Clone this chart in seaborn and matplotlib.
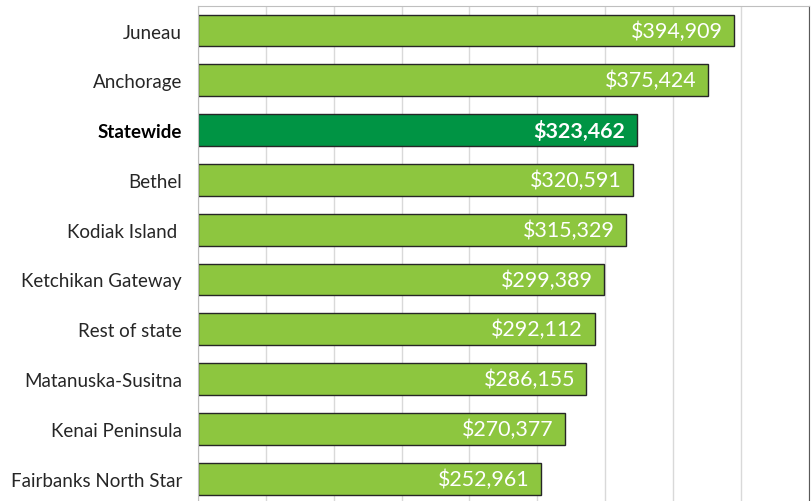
import numpy as np
import pandas as pd
import seaborn as sns
import matplotlib.pyplot as plt

regions = ["Juneau", "Anchorage", "Statewide", "Bethel", "Kodiak Island ",
           "Ketchikan Gateway", "Rest of state", "Matanuska-Susitna",
           "Kenai Peninsula", "Fairbanks North Star"]
values = [394909, 375424, 323462, 320591, 315329,
          299389, 292112, 286155, 270377, 252961]
highlight = "Statewide"

light_green = "#8DC63F"
dark_green = "#009444"

df = pd.DataFrame({"Region": regions, "Value": values})
palette = {r: (dark_green if r == highlight else light_green) for r in regions}

sns.set_style("white")
plt.rcParams["font.family"] = ["Lato", "DejaVu Sans"]

fig = plt.figure(figsize=(8.11, 5.02), dpi=100)
ax = fig.add_axes([0.244, 0.0, 0.7535, 0.9867])

sns.barplot(data=df, y="Region", x="Value", hue="Region", palette=palette,
            legend=False, width=0.64, edgecolor="#262626", linewidth=1.0,
            saturation=1, ax=ax)

ax.set_xlim(0, 450000)
ax.set_ylim(9.45, -0.5)
ax.set_xticks(np.arange(0, 450001, 50000))
ax.xaxis.grid(True, color="#d9d9d9", linewidth=1.0)
ax.set_axisbelow(True)
ax.tick_params(axis="x", bottom=False, labelbottom=False)
ax.tick_params(axis="y", left=False, pad=8, labelsize=13.5)
ax.set_xlabel("")
ax.set_ylabel("")

for s in ["top", "left"]:
    ax.spines[s].set_color("#bfbfbf")
ax.spines["right"].set_color("#595959")
ax.spines["bottom"].set_visible(False)

for lab in ax.get_yticklabels():
    lab.set_color("#262626")
    if lab.get_text() == highlight:
        lab.set_fontweight("bold")
        lab.set_color("black")

for i, (r, v) in enumerate(zip(regions, values)):
    ax.text(v - 8500, i, f"${v:,}", ha="right", va="center", color="white",
            fontsize=15.4, fontweight="bold" if r == highlight else "normal")

fig.savefig("out.png", dpi=100)
